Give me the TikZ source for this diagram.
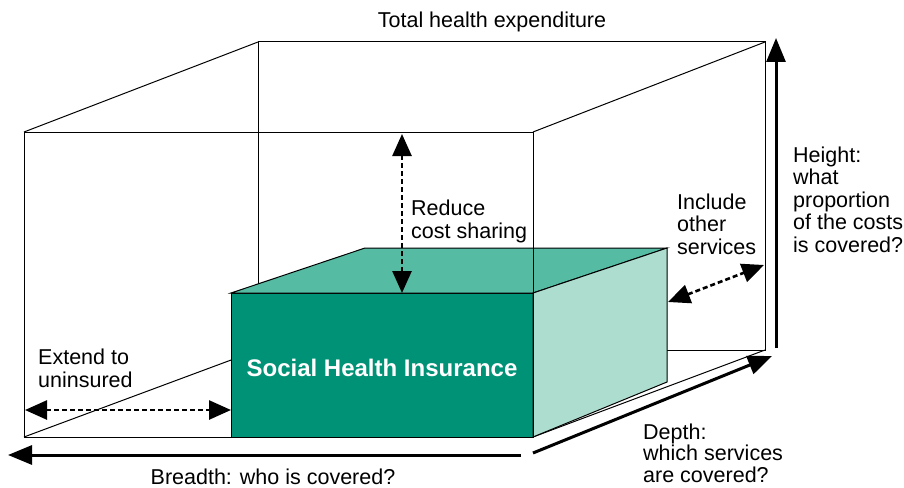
\documentclass[tikz,border=0pt]{standalone}
\usepackage{fontspec}
\setmainfont{Liberation Sans}
\usepackage{tikz}
\usetikzlibrary{arrows.meta}

\definecolor{shifront}{HTML}{009276}
\definecolor{shitop}{HTML}{55BBA2}
\definecolor{shiside}{HTML}{ADDDCF}

\begin{document}
\begin{tikzpicture}[x=1pt,y=-1pt,
		edge/.style={line width=1pt},
		bigarrow/.style={line width=3pt,-{Triangle[length=24pt,width=19pt]}},
		dasharrow/.style={line width=2.6pt,dash pattern=on 5pt off 3pt,
				{Triangle[length=22pt,width=19pt]}-{Triangle[length=22pt,width=19pt]}},
		lbl/.style={font=\fontsize{21.5}{22.5}\selectfont,inner sep=0pt,align=left,anchor=base west}]
		\useasboundingbox (0,0) rectangle (904,487);

		% Total expenditure box: front and back corners
		\coordinate (ftl) at (24,132);
		\coordinate (ftr) at (533,132);
		\coordinate (fbl) at (24,437);
		\coordinate (fbr) at (533,437);
		\coordinate (btl) at (258,42);
		\coordinate (btr) at (765,42);
		\coordinate (bbl) at (258,350);
		\coordinate (bbr) at (765,350);

		% Social health insurance box
		\coordinate (gftl) at (231,293);
		\coordinate (gftr) at (533,293);
		\coordinate (gfbl) at (231,437);
		\coordinate (gfbr) at (533,437);
		\coordinate (gbtl) at (365,248);
		\coordinate (gbtr) at (667,248);
		\coordinate (gbbr) at (667,382);

		% Outer box
		\draw[edge] (btl) -- (btr) -- (bbr) -- (bbl) -- cycle;
		\draw[edge] (ftl) -- (btl);
		\draw[edge] (ftr) -- (btr);
		\draw[edge] (fbl) -- (bbl);
		\draw[edge] (fbr) -- (bbr);
		\draw[edge] (ftl) -- (ftr) (ftl) -- (fbl) -- (fbr);

		% Inner box
		\filldraw[edge, fill=shifront] (gftl) rectangle (gfbr);
		\filldraw[edge, fill=shitop] (gftl) -- (gbtl) -- (gbtr) -- (gftr) -- cycle;
		\filldraw[edge, fill=shiside] (gftr) -- (gbtr) -- (gbbr) -- (gfbr) -- cycle;
		\draw[edge] (ftr) -- (fbr);
		\node[font=\fontsize{24}{26}\selectfont\bfseries, text=white] (shi) at (382,368) {Social Health Insurance};

		% Dimension arrows
		\coordinate (hbot) at (776,348);
		\coordinate (htop) at (776,38);
		\coordinate (dstart) at (533,453);
		\coordinate (dend) at (772,356);
		\coordinate (bstart) at (521,455);
		\coordinate (bend) at (8,455);
		\draw[bigarrow] (hbot) -- (htop);
		\draw[bigarrow] (dstart) -- (dend);
		\draw[bigarrow] (bstart) -- (bend);

		% Extensions
		\coordinate (rtop) at (402,134);
		\coordinate (rbot) at (402,293);
		\coordinate (eleft) at (25,410);
		\coordinate (eright) at (231,410);
		\coordinate (ileft) at (668,302);
		\coordinate (iright) at (764,265);
		\draw[dasharrow] (rtop) -- (rbot);
		\draw[dasharrow] (eleft) -- (eright);
		\draw[dasharrow] (ileft) -- (iright);

		% Labels (multi-line ones sit on their last line)
		\node[lbl, anchor=base] (total) at (492,28) {Total health expenditure};
		\node[lbl] (reduce) at (411,238) {Reduce\\cost sharing};
		\node[lbl] (include) at (677,254) {Include\\other\\services};
		\node[lbl] (height) at (793,252) {Height:\\what\\proportion\\of the costs\\is covered?};
		\node[lbl] (extend) at (38,387) {Extend to\\uninsured};
		\node[lbl, anchor=base] (breadth) at (273,484) {Breadth: who is covered?};
		\node[lbl, font=\fontsize{21.5}{21.5}\selectfont] (depth) at (643,482) {Depth:\\which services\\are covered?};
	\end{tikzpicture}
\end{document}
